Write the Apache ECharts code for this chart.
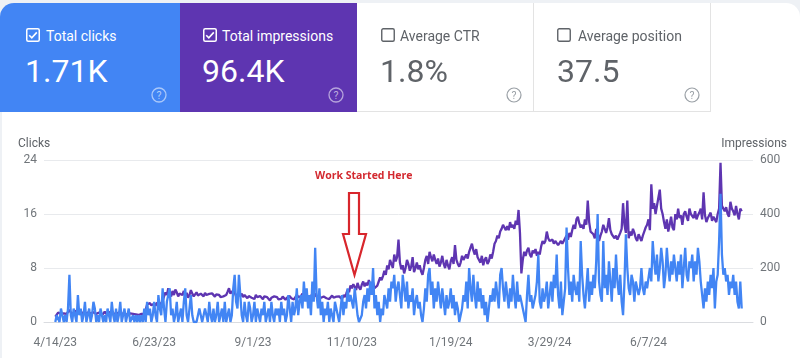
<!DOCTYPE html>
<html><head><meta charset="utf-8">
<script src="https://cdn.jsdelivr.net/npm/echarts@6/dist/echarts.min.js"></script>
<style>
html,body{margin:0;padding:0;width:800px;height:358px;overflow:hidden;background:#eef1f5;font-family:Roboto,"Noto Sans",sans-serif;}
#wrap{position:absolute;left:2px;top:3px;width:798px;height:355px;background:#fff;border-radius:14px 14px 0 0;}
#chart{position:absolute;left:0;top:0;width:800px;height:358px;}
.card{position:absolute;top:3px;height:109px;box-sizing:border-box;}
.c1{left:0;width:180px;background:#4285f4;border-top-left-radius:14px;color:#fff;}
.c2{left:180px;width:177px;background:#5e35b1;color:#fff;}
.c3{left:357px;width:177px;border-right:1px solid #e3e3e3;border-bottom:1px solid #e3e3e3;color:#5f6368;}
.c4{left:534px;width:177px;border-right:1px solid #e3e3e3;border-bottom:1px solid #e3e3e3;color:#5f6368;}
.cb{position:absolute;left:26px;top:25px;width:14px;height:14px;}
.lbl{position:absolute;left:46px;top:24px;font-size:14px;line-height:18px;white-space:nowrap;}
.num{position:absolute;left:25px;top:52px;font-size:32px;line-height:32px;white-space:nowrap;}
.q{position:absolute;left:151px;top:84px;width:16px;height:16px;}
</style></head><body>
<div id="wrap"></div>
<div id="chart"></div>
<div class="card c1">
 <svg class="cb" viewBox="0 0 14 14"><rect x="0.75" y="0.75" width="12.5" height="12.5" rx="1.5" fill="none" stroke="#fff" stroke-width="1.5"/><path d="M3.2 7.2 L5.8 9.8 L10.8 4.4" fill="none" stroke="#fff" stroke-width="1.6"/></svg>
 <div class="lbl">Total clicks</div><div class="num">1.71K</div>
 <svg class="q" viewBox="0 0 16 16"><circle cx="8" cy="8" r="7" fill="none" stroke="rgba(255,255,255,0.55)" stroke-width="1.3"/><text x="8" y="12" text-anchor="middle" font-size="10.5" fill="rgba(255,255,255,0.6)" font-family="Roboto">?</text></svg>
</div>
<div class="card c2">
 <svg class="cb" style="left:23px" viewBox="0 0 14 14"><rect x="0.75" y="0.75" width="12.5" height="12.5" rx="1.5" fill="none" stroke="#fff" stroke-width="1.5"/><path d="M3.2 7.2 L5.8 9.8 L10.8 4.4" fill="none" stroke="#fff" stroke-width="1.6"/></svg>
 <div class="lbl" style="left:42px">Total impressions</div><div class="num" style="left:22px">96.4K</div>
 <svg class="q" style="left:148px" viewBox="0 0 16 16"><circle cx="8" cy="8" r="7" fill="none" stroke="rgba(255,255,255,0.55)" stroke-width="1.3"/><text x="8" y="12" text-anchor="middle" font-size="10.5" fill="rgba(255,255,255,0.6)" font-family="Roboto">?</text></svg>
</div>
<div class="card c3">
 <svg class="cb" style="left:24px" viewBox="0 0 14 14"><rect x="0.75" y="0.75" width="12.5" height="12.5" rx="1.5" fill="none" stroke="#5f6368" stroke-width="1.4"/></svg>
 <div class="lbl" style="left:43px">Average CTR</div><div class="num" style="left:23px">1.8%</div>
 <svg class="q" style="left:149px" viewBox="0 0 16 16"><circle cx="8" cy="8" r="7" fill="none" stroke="#9aa0a6" stroke-width="1.2"/><text x="8" y="12" text-anchor="middle" font-size="10.5" fill="#9aa0a6" font-family="Roboto">?</text></svg>
</div>
<div class="card c4">
 <svg class="cb" style="left:23px" viewBox="0 0 14 14"><rect x="0.75" y="0.75" width="12.5" height="12.5" rx="1.5" fill="none" stroke="#5f6368" stroke-width="1.4"/></svg>
 <div class="lbl" style="left:44px">Average position</div><div class="num" style="left:23px">37.5</div>
 <svg class="q" style="left:150px" viewBox="0 0 16 16"><circle cx="8" cy="8" r="7" fill="none" stroke="#9aa0a6" stroke-width="1.2"/><text x="8" y="12" text-anchor="middle" font-size="10.5" fill="#9aa0a6" font-family="Roboto">?</text></svg>
</div>
<script>
// Tick labels (every 70 days starting 4/14/23) and their day indices
const tickLabels = ['4/14/23','6/23/23','9/1/23','11/10/23','1/19/24','3/29/24','6/7/24'];
const tickDays = [0,70,140,210,280,350,420];

// Daily clicks (from 4/14/23)
const clicks = [
0,1,1,0,2,1,0,1,0,2,
7,1,0,2,1,0,4,1,2,0,
1,3,0,1,2,0,1,3,2,0,
1,0,2,1,0,1,0,2,1,0,
3,1,0,2,0,1,3,0,1,2,
0,1,2,0,0,1,0,1,0,1,
0,1,0,2,0,3,1,2,0,1,
3,1,0,4,2,1,5,2,0,3,
4,5,1,2,0,1,3,0,1,2,
0,3,5,1,0,2,4,1,0,0,
0,1,2,1,0,0,2,1,0,3,
1,0,2,0,1,3,0,1,2,0,
3,0,1,2,0,1,5,7,3,2,
7,4,1,0,3,1,0,3,2,0,
1,3,0,2,1,0,2,1,3,0,
1,2,0,3,1,0,2,1,2,0,
3,1,2,0,1,4,2,0,3,1,
2,5,1,3,4,2,6,3,5,2,
4,1,6,3,11,4,2,5,1,3,
0,2,1,3,0,2,1,0,3,2,
1,0,2,4,1,3,2,5,3,4,
4,2,5,3,1,0,0,1,3,4,
2,5,3,6,4,8,2,4,1,3,
0,2,1,4,3,2,5,3,6,5,
7,3,5,6,4,2,7,5,3,6,
2,4,3,5,1,3,4,2,3,1,
0,2,5,3,7,8,4,6,2,5,
3,6,4,2,5,3,1,4,2,3,
5,2,4,1,3,2,0,0,2,4,
3,6,2,8,5,3,7,4,2,6,
3,5,2,4,1,3,0,2,4,3,
5,3,6,4,2,7,8,5,3,6,
4,2,5,3,7,4,2,6,3,4,
3,2,1,0,4,7,3,4,2,3,
4,6,10,3,2,5,3,4,6,2,
4,6,3,7,5,10,4,2,6,1,
3,5,14,8,4,6,3,7,5,4,
6,3,12,7,4,2,5,8,3,6,
4,7,5,9,16,6,4,3,12,5,
7,4,9,6,3,8,5,10,6,4,
7,3,1,6,13,8,5,4,7,6,
3,6,5,4,5,8,5,4,6,5,
5,8,6,12,9,7,10,6,8,11,
9,5,7,11,8,6,9,7,10,8,
6,9,7,10,5,8,11,7,6,9,
8,10,6,9,7,11,9,6,4,2,
5,3,6,4,7,5,8,2,6,7,
12,19,10,7,8,6,7,4,6,5,
7,4,6,3,2,6,2
];

// Daily impressions (from 4/14/23)
const impressions = [
20,25,35,40,30,28,32,38,30,26,
45,35,30,28,40,35,42,30,28,35,
38,30,25,35,40,32,28,36,42,30,
28,35,30,25,32,38,30,28,35,30,
40,32,28,30,25,35,38,30,28,33,
30,25,28,32,26,30,24,28,30,26,
28,30,25,30,45,65,60,70,62,55,
68,60,72,58,62,70,78,95,110,100,
125,105,95,115,100,120,110,95,105,112,
100,115,95,108,90,100,118,105,95,102,
110,98,92,105,100,95,108,100,96,104,
98,106,100,94,102,96,100,92,88,95,
90,100,112,125,105,98,118,110,95,102,
108,96,105,92,100,95,88,96,100,90,
95,85,100,92,88,96,90,84,95,88,
92,85,80,90,86,95,88,92,84,90,
86,94,88,82,90,85,96,88,92,84,
90,100,92,86,95,105,90,98,88,92,
95,88,100,90,105,95,88,82,90,86,
94,100,88,95,85,92,98,90,86,94,
88,95,90,84,100,92,105,120,110,135,
125,140,130,118,145,128,120,138,150,132,
145,135,155,140,130,148,125,118,135,150,
165,155,170,190,175,210,195,230,215,200,
250,225,240,305,220,195,210,180,200,230,
215,190,205,240,185,200,220,195,210,188,
175,200,230,245,215,260,240,225,250,230,
215,235,205,220,245,215,200,230,210,195,
225,240,215,285,230,215,205,220,245,230,
230,250,235,260,275,290,265,250,270,240,
235,220,245,210,230,240,215,225,250,235,
260,290,300,320,310,335,345,360,350,340,
355,340,370,350,360,345,375,360,415,330,
180,230,260,245,265,275,250,240,265,255,
270,245,260,250,280,300,290,300,335,310,
300,295,305,290,300,295,285,280,300,290,
295,310,320,305,330,315,340,360,345,380,
390,365,350,360,345,380,360,450,370,335,
340,325,310,345,330,300,320,335,360,345,
330,350,385,340,325,330,310,320,305,300,
330,345,440,360,330,450,310,335,320,345,
330,310,300,325,330,300,320,335,350,360,
380,340,510,420,440,400,430,460,490,420,
400,370,345,380,335,360,390,350,340,400,
380,420,385,395,360,400,410,390,375,420,
400,395,385,410,380,395,405,420,380,480,
395,370,385,380,405,375,390,380,370,400,
420,590,430,420,410,425,400,390,445,420,
410,395,430,400,380,420,410
];

const chart = echarts.init(document.getElementById('chart'), null, {renderer:'canvas'});
const font = 'Roboto, "Noto Sans", sans-serif';
const labelMap = {};
tickDays.forEach((d,i)=>{labelMap[d]=tickLabels[i];});

chart.setOption({
  animation:false,
  backgroundColor:'transparent',
  grid:{left:44,right:47,top:160,bottom:36,containLabel:false},
  xAxis:{
    type:'value', min:-8, max:494,
    splitLine:{show:false},
    axisLine:{show:true,lineStyle:{color:'#dadce0',width:1}},
    axisTick:{show:false},
    axisLabel:{customValues:tickDays, formatter:v=>labelMap[v]||'', color:'#70757a', fontSize:12, fontFamily:font, margin:15}
  },
  yAxis:[
    {type:'value',min:0,max:24,interval:8,position:'left',
     axisLine:{show:false},axisTick:{show:false},
     splitLine:{lineStyle:{color:'#e8eaed',width:1}},
     axisLabel:{color:'#70757a',fontSize:12,fontFamily:font,margin:7}},
    {type:'value',min:0,max:600,interval:200,position:'right',
     axisLine:{show:false},axisTick:{show:false},splitLine:{show:false},
     axisLabel:{color:'#70757a',fontSize:12,fontFamily:font,margin:7}}
  ],
  graphic:[
    {type:'text',left:18,top:138,style:{text:'Clicks',fill:'#5f6368',font:'12px '+font}},
    {type:'text',right:13,top:138,style:{text:'Impressions',fill:'#5f6368',font:'12px '+font}},
    {type:'text',left:315,top:171,style:{text:'Work Started Here',fill:'#d3282f',font:'bold 10.5px "Open Sans", "DejaVu Sans", sans-serif'}},
    {type:'polygon',shape:{points:[[349,193],[359,193],[359,234],[366,234],[354.5,275],[343,234],[349,234]]},
     style:{fill:'none',stroke:'#d8262c',lineWidth:2.2}, z:10}
  ],
  series:[
    {name:'Impressions',type:'line',yAxisIndex:1,showSymbol:false,symbol:'none',
     data:impressions.map((v,i)=>[i,v]),lineStyle:{color:'#5e35b1',width:2.3},itemStyle:{color:'#5e35b1'}},
    {name:'Clicks',type:'line',yAxisIndex:0,showSymbol:false,symbol:'none',
     data:clicks.map((v,i)=>[i,v]),lineStyle:{color:'#4285f4',width:2.3},itemStyle:{color:'#4285f4'}}
  ]
});
</script>
</body></html>
